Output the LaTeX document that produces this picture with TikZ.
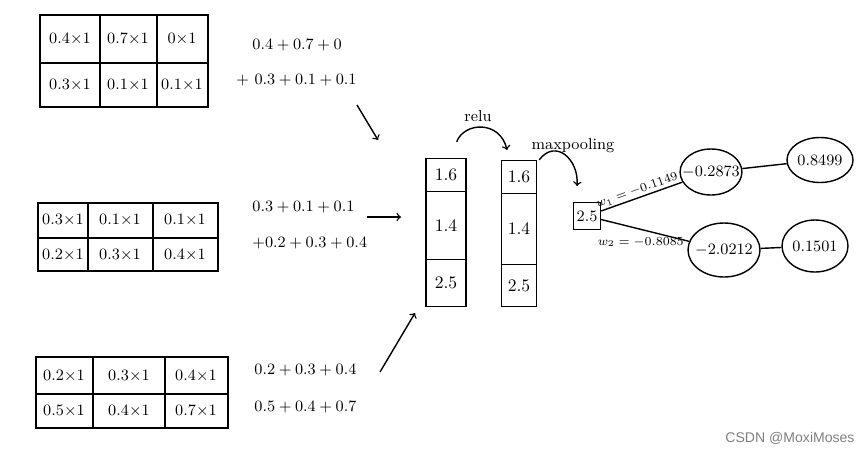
\documentclass[tikz,border=0pt]{standalone}
\usepackage{amsmath}
\usepackage{amssymb}
\usepackage{fontspec}
\newfontfamily\markfont{Liberation Sans}
\usetikzlibrary{shapes.geometric,positioning}

\begin{document}
\begin{tikzpicture} [x=0.02cm,y=-0.02cm,thick,
		val/.style={inner sep=1pt,font=\small},
		sumtext/.style={anchor=west,inner sep=1pt,font=\small},
		cell/.style={draw,thick,minimum width=0.8cm,inner sep=0pt},
		neuron/.style={draw,thick,ellipse,inner xsep=-4pt,inner ysep=0pt,font=\small},
		hand/.style={thick,->}]
			\useasboundingbox (0,0) rectangle (865,454);
			
			% the three tables
			\draw (40,15) rectangle (208,107);
			\draw (40,63) -- (208,63);
			\foreach \x in {100,157}
			\draw (\x,15) -- (\x,107);
			
			\draw (38,203) rectangle (218,271);
			\draw (38,238) -- (218,238);
			\foreach \x in {88,153}
			\draw (\x,203) -- (\x,271);
			
			\draw (36,357) rectangle (228,428);
			\draw (36,394) -- (228,394);
			\foreach \x in {93,165}
			\draw (\x,357) -- (\x,428);
			
			\foreach \i/\x/\y/\t in {1/70/39/0.4, 2/128/39/0.7, 3/182/39/0, 4/70/85/0.3, 5/128/85/0.1, 6/182/85/0.1,
				7/63/220/0.3, 8/120/220/0.1, 9/185/220/0.1, 10/63/255/0.2, 11/120/255/0.3, 12/185/255/0.4,
				13/64/376/0.2, 14/129/376/0.3, 15/196/376/0.4, 16/64/411/0.5, 17/129/411/0.4, 18/196/411/0.7}
			\node[val] (t\i) at (\x,\y) {$\t{\times}1$};
			
			% sums
			\node[sumtext] (s1) at (250,45) {$0.4+0.7+0$};
			\node[sumtext] (s2) at (234,80) {$+\ 0.3+0.1+0.1$};
			\node[sumtext] (s3) at (250,207) {$0.3+0.1+0.1$};
			\node[sumtext] (s4) at (250,243) {$+0.2+0.3+0.4$};
			\node[sumtext] (s5) at (252,370) {$0.2+0.3+0.4$};
			\node[sumtext] (s6) at (252,407) {$0.5+0.4+0.7$};
			
			% columns
			\node[cell,minimum height=0.66cm] (a1) at (446,175) {$1.6$};
			\node[cell,minimum height=1.36cm,below=-0.8pt of a1] (a2) {$1.4$};
			\node[cell,minimum height=0.94cm,below=-0.8pt of a2] (a3) {$2.5$};
			
			\node[cell,minimum width=0.7cm,minimum height=0.66cm] (b1) at (519,177) {$1.6$};
			\node[cell,minimum width=0.7cm,minimum height=1.42cm,below=-0.8pt of b1] (b2) {$1.4$};
			\node[cell,minimum width=0.7cm,minimum height=0.84cm,below=-0.8pt of b2] (b3) {$2.5$};
			
			\coordinate (p1) at (357,105);
			\coordinate (q1) at (378,140);
			\coordinate (p2) at (367,217);
			\coordinate (q2) at (401,217);
			\coordinate (p3) at (380,372);
			\coordinate (q3) at (415,313);
			\draw[hand] (p1) -- (q1);
			\draw[hand] (p2) -- (q2);
			\draw[hand] (p3) -- (q3);
			
			\node[val] (relu) at (478,116) {relu};
			\draw[hand] (a1.north east) ++(-10,-16) .. controls (464,122) and (500,120) .. (507,150);
			\node[val] (mp) at (573,146) {maxpooling};
			\draw[hand] (b1.north east) ++(2,0) .. controls (556,138) and (579,160) .. (577,186);
			
			% output part
			\node[draw,thick,minimum size=0.54cm,inner sep=0pt,font=\small] (m) at (587,216) {$2.5$};
			\node[neuron,minimum width=1.2cm,minimum height=0.92cm] (e1) at (711,172) {$-0.2873$};
			\node[neuron,minimum width=1.32cm,minimum height=0.9cm] (e2) at (820,160) {$0.8499$};
			\node[neuron,minimum width=1.44cm,minimum height=1.08cm] (e3) at (724,250) {$-2.0212$};
			\node[neuron,minimum width=1.32cm,minimum height=1.04cm] (e4) at (815,246) {$0.1501$};
			
			\draw (m) -- node[sloped,above,pos=0.47,inner sep=1pt,font=\scriptsize] {$w_1=-0.1149$} (e1);
			\draw (m) -- node[below,pos=0.45,inner sep=4pt,font=\scriptsize] {$w_2=-0.8085$} (e3);
			\draw (e1) -- (e2);
			\draw (e3) -- (e4);
			
			\node[text=gray,font=\markfont\footnotesize] (mark) at (790,438) {CSDN @MoxiMoses};
			\end{tikzpicture}
\end{document}
